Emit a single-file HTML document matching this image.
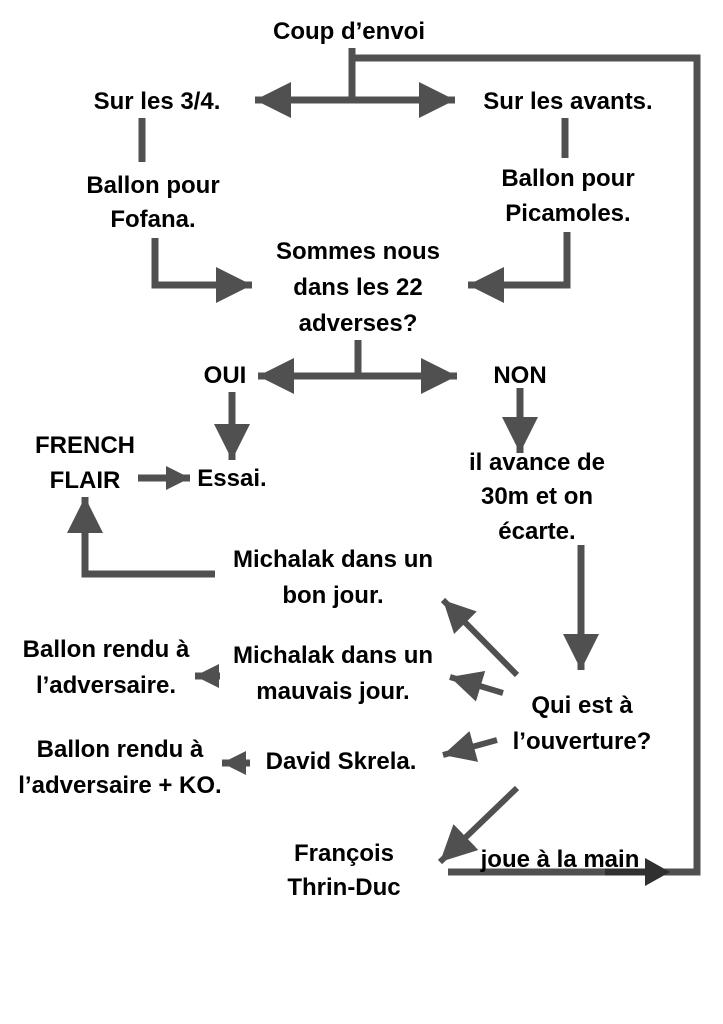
<!DOCTYPE html>
<html><head><meta charset="utf-8"><style>
html,body{margin:0;padding:0;background:#fff;}
svg{display:block;}
text{font-family:"Liberation Sans",sans-serif;font-weight:bold;font-size:24px;fill:#000;text-anchor:middle;}
</style></head><body>
<svg width="723" height="1024" viewBox="0 0 723 1024">
<defs>
<marker id="a" viewBox="0 0 10 10" refX="10" refY="5" markerWidth="36" markerHeight="36" markerUnits="userSpaceOnUse" orient="auto"><path d="M0,0L10,5L0,10z" fill="#505050"/></marker>
<marker id="b" viewBox="0 0 10 10" refX="10" refY="5" markerWidth="32" markerHeight="32" markerUnits="userSpaceOnUse" orient="auto"><path d="M0,0L10,5L0,10z" fill="#505050"/></marker>
<marker id="c" viewBox="0 0 10 10" refX="10" refY="5" markerWidth="24" markerHeight="26" markerUnits="userSpaceOnUse" orient="auto"><path d="M0,0L10,5L0,10z" fill="#505050"/></marker>
</defs>
<g stroke="#505050" stroke-width="7" fill="none">
<polyline points="352,48 352,58 697,58 697,872 448,872"/>
<line x1="352" y1="58" x2="352" y2="100"/>
<line x1="300" y1="100" x2="255" y2="100" marker-end="url(#a)"/>
<line x1="400" y1="100" x2="455" y2="100" marker-end="url(#a)"/>
<line x1="290" y1="100" x2="420" y2="100"/>
<line x1="142" y1="118" x2="142" y2="162"/>
<line x1="565" y1="118" x2="565" y2="158"/>
<polyline points="155,238 155,285 252,285" marker-end="url(#a)"/>
<polyline points="567,232 567,285 468,285" marker-end="url(#a)"/>
<line x1="358" y1="340" x2="358" y2="376"/>
<line x1="300" y1="376" x2="258" y2="376" marker-end="url(#a)"/>
<line x1="400" y1="376" x2="457" y2="376" marker-end="url(#a)"/>
<line x1="290" y1="376" x2="425" y2="376"/>
<line x1="232" y1="392" x2="232" y2="460" marker-end="url(#a)"/>
<line x1="520" y1="388" x2="520" y2="453" marker-end="url(#a)"/>
<line x1="138" y1="478" x2="190" y2="478" marker-end="url(#c)"/>
<polyline points="215,574 85,574 85,497" marker-end="url(#a)"/>
<line x1="581" y1="545" x2="581" y2="670" marker-end="url(#a)"/>
<line x1="517" y1="675" x2="443" y2="600" stroke-width="6" marker-end="url(#b)"/>
<line x1="503" y1="693" x2="450" y2="677" stroke-width="6" marker-end="url(#b)"/>
<line x1="497" y1="740" x2="443" y2="755" stroke-width="6" marker-end="url(#b)"/>
<line x1="517" y1="788" x2="440" y2="862" stroke-width="6" marker-end="url(#a)"/>
<line x1="220" y1="676" x2="195" y2="676" marker-end="url(#c)"/>
<line x1="250" y1="763" x2="222" y2="763" marker-end="url(#c)"/>
</g>
<polygon points="645,858 670,872 645,886" fill="#303030"/>
<line x1="605" y1="872" x2="650" y2="872" stroke="#303030" stroke-width="7"/>
<text x="349" y="39">Coup d’envoi</text>
<text x="157" y="109">Sur les 3/4.</text>
<text x="568" y="109">Sur les avants.</text>
<text x="153" y="193">Ballon pour</text>
<text x="153" y="227">Fofana.</text>
<text x="568" y="186">Ballon pour</text>
<text x="568" y="221">Picamoles.</text>
<text x="358" y="259">Sommes nous</text>
<text x="358" y="295">dans les 22</text>
<text x="358" y="331">adverses?</text>
<text x="225" y="383">OUI</text>
<text x="520" y="383">NON</text>
<text x="85" y="453">FRENCH</text>
<text x="85" y="488">FLAIR</text>
<text x="232" y="486">Essai.</text>
<text x="537" y="470">il avance de</text>
<text x="537" y="504">30m et on</text>
<text x="537" y="539">écarte.</text>
<text x="333" y="567">Michalak dans un</text>
<text x="333" y="603">bon jour.</text>
<text x="333" y="663">Michalak dans un</text>
<text x="333" y="699">mauvais jour.</text>
<text x="106" y="657">Ballon rendu à</text>
<text x="106" y="693">l’adversaire.</text>
<text x="582" y="713">Qui est à</text>
<text x="582" y="749">l’ouverture?</text>
<text x="341" y="769">David Skrela.</text>
<text x="120" y="757">Ballon rendu à</text>
<text x="120" y="793">l’adversaire + KO.</text>
<text x="344" y="861">François</text>
<text x="344" y="895">Thrin-Duc</text>
<text x="560" y="867">joue à la main</text>
</svg>
</body></html>
